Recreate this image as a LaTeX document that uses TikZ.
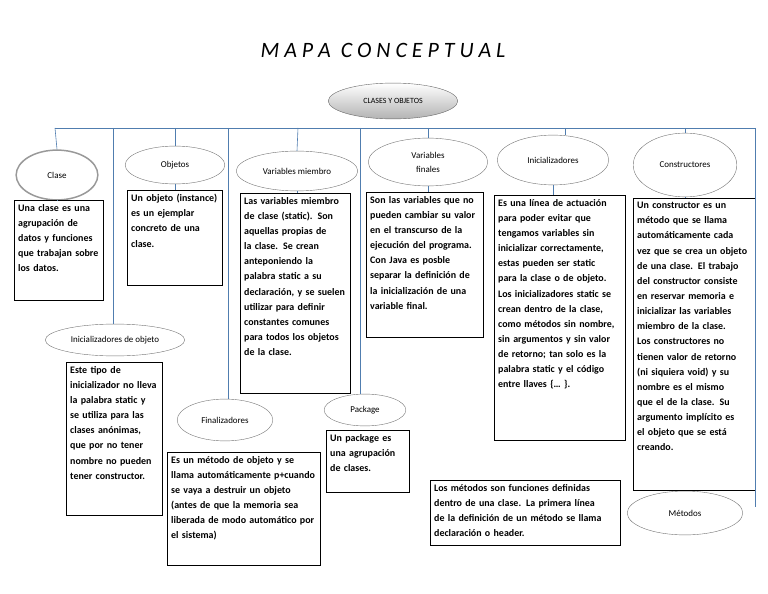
\documentclass[tikz,border=0pt]{standalone}
\usepackage{fontspec}
\setmainfont{Carlito}
\usetikzlibrary{shapes.geometric}
\definecolor{ln}{RGB}{80,125,175}
\hyphenpenalty=10000
\exhyphenpenalty=10000
\begin{document}
\begin{tikzpicture}[x=1bp,y=-1bp,
  el/.style={ellipse,draw=black!55,line width=0.4pt,minimum width=#1,inner sep=0pt,font=\fontsize{9}{11}\selectfont,align=center},
  bx/.style={anchor=north west,align=left,inner sep=4pt,font=\bfseries\fontsize{10}{15.2}\selectfont},
  fr/.style={draw,line width=0.8pt},
  cn/.style={draw=ln,line width=0.6pt}]
\useasboundingbox (0,0) rectangle (768,594);
\node at (383,50) {\fontsize{22}{24}\selectfont\itshape M A P A\ \ C O N C E P T U A L};
\node[ellipse,draw=black!60,top color=white,bottom color=black!30,minimum width=130,minimum height=36,font=\fontsize{8}{9}\selectfont] (root) at (393,101) {CLASES Y OBJETOS};
\coordinate (bl) at (55,128); \coordinate (br) at (755,128);
\draw[cn] (bl) -- (br);
% ellipses
\node[el=82,minimum height=50,draw=black!40,line width=1.5pt] (e1) at (57,175) {Clase};
\node[el=100,minimum height=38] (e2) at (175,165) {Objetos};
\node[el=122,minimum height=40] (e3) at (297,171) {Variables miembro};
\node[el=120,minimum height=48] (e4) at (428,162) {Variables\\[3pt]finales};
\node[el=112,minimum height=50] (e5) at (553,160) {Inicializadores};
\node[el=104,minimum height=64] (e6) at (685,165) {Constructores};
\node[el=140,minimum height=32] (e7) at (115,340) {Inicializadores de objeto};
\node[el=96,minimum height=42] (e8) at (225,420) {Finalizadores};
\node[el=82,minimum height=32] (e9) at (365,410) {Package};
\node[el=116,minimum height=44] (e10) at (685,513) {Métodos};
% boxes
\node[bx,text width=81] (b1) at (14,200) {Una clase es una agrupación de datos y funciones que trabajan sobre los datos.};
\draw[fr] (14,200) rectangle (103,300);
\node[bx,text width=87] (b2) at (127,190) {Un objeto (instance) es un ejemplar concreto de una clase.};
\draw[fr] (127,190) rectangle (222,285);
\node[bx,text width=102] (b3) at (240,193) {Las variables miembro de clase (static). Son aquellas propias de la clase. Se crean anteponiendo la palabra static a su declaración, y se suelen utilizar para definir constantes comunes para todos los objetos de la clase.};
\draw[fr] (240,193) rectangle (350,393);
\node[bx,text width=109] (b4) at (366,192) {Son las variables que no pueden cambiar su valor en el transcurso de la ejecución del programa. Con Java es posble separar la definición de la inicialización de una variable final.};
\draw[fr] (366,192) rectangle (483,337);
\node[bx,text width=123] (b5) at (494,195) {Es una línea de actuación para poder evitar que tengamos variables sin inicializar correctamente, estas pueden ser static para la clase o de objeto. Los inicializadores static se crean dentro de la clase, como métodos sin nombre, sin argumentos y sin valor de retorno; tan solo es la palabra static y el código entre llaves \{… \}.};
\draw[fr] (494,195) rectangle (625,440);
\node[bx,text width=114] (b6) at (633,198) {Un constructor es un método que se llama automáticamente cada vez que se crea un objeto de una clase. El trabajo del constructor consiste en reservar memoria e inicializar las variables miembro de la clase. Los constructores no tienen valor de retorno (ni siquiera void) y su nombre es el mismo que el de la clase. Su argumento implícito es el objeto que se está creando.};
\draw[fr] (633,198) rectangle (755,490);
\node[bx,text width=88] (b7) at (66,362) {Este tipo de inicializador no lleva la palabra static y se utiliza para las clases anónimas, que por no tener nombre no pueden tener constructor.};
\draw[fr] (66,362) rectangle (162,515);
\node[bx,text width=145] (b8) at (167,452) {Es un método de objeto y se llama automáticamente p+cuando se vaya a destruir un objeto (antes de que la memoria sea liberada de modo automático por el sistema)};
\draw[fr] (167,452) rectangle (320,565);
\node[bx,text width=75] (b9) at (326,430) {Un package es una agrupación de clases.};
\draw[fr] (326,430) rectangle (409,492);
\node[bx,text width=182] (b10) at (430,480) {Los métodos son funciones definidas dentro de una clase. La primera línea de la definición de un método se llama declaración o header.};
\draw[fr] (430,480) rectangle (620,545);
% connectors from bus
\draw[cn] (bl) -- (e1.north);
\draw[cn] (113,128) -- (e7.north-|113,0);
\draw[cn] (175,128) -- (e2.north);
\draw[cn] (228,128) -- (e8.north-|228,0);
\draw[cn] (298,128) -- (e3.north);
\draw[cn] (360,128) -- (e9.north-|360,0);
\draw[cn] (428,128) -- (e4.north);
\draw[cn] (565,128) -- (e5.north-|565,0);
\draw[cn] (685,128) -- (e6.north);
\coordinate (me) at (755,507);
\draw[cn] (br) -- (me);
% ellipse to box
\draw[cn] (e1.south) -- (e1.south|-b1.north);
\draw[cn] (e2.south) -- (e2.south|-b2.north);
\draw[cn] (e3.south) -- (e3.south|-b3.north);
\draw[cn] (e4.south) -- (e4.south|-b4.north);
\draw[cn] (e5.south) -- (e5.south|-b5.north);
\draw[cn] (e6.south) -- (e6.south|-b6.north);
\end{tikzpicture}
\end{document}
